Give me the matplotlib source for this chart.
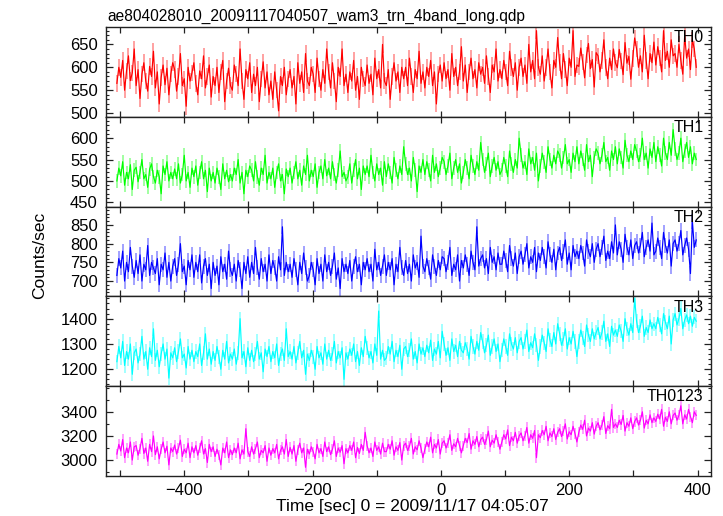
import numpy as np
import matplotlib
matplotlib.use("Agg")
import matplotlib.pyplot as plt
from matplotlib.ticker import MultipleLocator, FixedLocator

plt.rcParams['font.family'] = ['Liberation Sans', 'DejaVu Sans']

title = "ae804028010_20091117040507_wam3_trn_4band_long.qdp"
xlabel = "Time [sec] 0 = 2009/11/17 04:05:07"
ylabel = "Counts/sec"
band_names = ["TH0", "TH1", "TH2", "TH3", "TH0123"]

t_start = -505.0
t_bin = 3.0

th0 = [
    565, 600, 578, 615, 550, 592, 625, 571, 588, 640,
    560, 595, 532, 585, 610, 570, 548, 602, 580, 635,
    555, 590, 520, 578, 605, 562, 598, 540, 585, 610,
    595, 548, 580, 630, 560, 575, 515, 600, 570, 588,
    610, 565, 540, 592, 575, 625, 555, 580, 605, 535,
    580, 560, 600, 545, 590, 615, 525, 570, 598, 560,
    550, 605, 585, 560, 640, 570, 530, 595, 575, 610,
    545, 585, 560, 600, 525, 575, 612, 555, 590, 540,
    570, 530, 590, 550, 505, 580, 560, 600, 540, 575,
    595, 555, 580, 520, 610, 565, 590, 545, 630, 570,
    560, 600, 585, 545, 620, 575, 550, 595, 565, 640,
    590, 555, 610, 570, 525, 600, 580, 640, 560, 585,
    545, 590, 570, 615, 550, 580, 530, 600, 575, 560,
    605, 565, 585, 540, 620, 575, 595, 555, 650, 570,
    560, 595, 530, 580, 610, 570, 590, 545, 600, 575,
    600, 560, 620, 580, 545, 595, 575, 635, 565, 590,
    555, 600, 580, 615, 560, 590, 520, 585, 605, 570,
    610, 575, 595, 550, 630, 580, 600, 560, 590, 645,
    570, 605, 545, 590, 620, 575, 595, 555, 610, 585,
    600, 565, 625, 580, 545, 605, 590, 640, 570, 595,
    575, 615, 590, 560, 635, 600, 580, 610, 550, 600,
    620, 580, 605, 565, 650, 590, 615, 575, 680, 600,
    585, 625, 570, 600, 640, 590, 555, 615, 600, 665,
    610, 575, 630, 595, 560, 620, 600, 680, 580, 605,
    602, 642, 612, 577, 627, 652, 597, 617, 557, 632,
    625, 590, 615, 660, 600, 575, 620, 595, 640, 610,
    599, 639, 614, 584, 654, 609, 624, 574, 619, 664,
    640, 600, 625, 590, 670, 615, 575, 630, 610, 655,
    605, 645, 620, 590, 680, 615, 635, 600, 660, 625,
    630, 600, 650, 615, 585, 670, 620, 640, 595, 660,
    640, 600,
]

th1 = [
    500, 530, 512, 545, 490, 520, 505, 538, 480, 525,
    532, 498, 520, 550, 505, 515, 485, 528, 540, 510,
    495, 525, 510, 470, 535, 515, 545, 500, 520, 505,
    528, 505, 540, 495, 515, 560, 500, 520, 485, 530,
    510, 535, 490, 520, 545, 505, 525, 475, 530, 500,
    520, 495, 530, 510, 480, 540, 505, 525, 498, 515,
    500, 530, 515, 550, 495, 520, 470, 525, 510, 535,
    525, 500, 545, 510, 490, 530, 515, 560, 495, 520,
    505, 530, 485, 520, 540, 500, 515, 470, 528, 510,
    530, 495, 520, 545, 505, 525, 490, 535, 515, 560,
    500, 525, 510, 540, 485, 520, 535, 505, 550, 512,
    530, 505, 545, 515, 495, 525, 570, 510, 520, 500,
    510, 540, 495, 525, 550, 505, 530, 480, 535, 515,
    535, 510, 560, 520, 500, 540, 515, 530, 490, 545,
    510, 540, 520, 495, 555, 525, 505, 535, 515, 580,
    540, 515, 530, 500, 555, 525, 475, 535, 520, 550,
    515, 545, 525, 500, 560, 520, 540, 510, 530, 555,
    545, 515, 535, 565, 505, 530, 550, 520, 540, 495,
    520, 550, 530, 505, 560, 535, 515, 545, 525, 590,
    550, 520, 540, 565, 510, 535, 555, 525, 545, 515,
    525, 555, 535, 510, 570, 540, 520, 550, 530, 600,
    560, 530, 545, 515, 575, 540, 555, 525, 565, 500,
    535, 565, 545, 520, 580, 550, 530, 560, 540, 570,
    560, 530, 555, 585, 540, 550, 520, 565, 545, 580,
    540, 570, 550, 525, 585, 545, 560, 510, 555, 575,
    565, 540, 560, 590, 545, 555, 525, 570, 550, 580,
    540, 575, 555, 530, 595, 560, 545, 570, 550, 585,
    570, 545, 560, 600, 550, 565, 530, 575, 555, 590,
    545, 580, 560, 535, 600, 565, 550, 590, 560, 620,
    575, 550, 565, 600, 545, 570, 590, 555, 580, 540,
    565, 550,
]

th2 = [
    715, 760, 735, 780, 700, 750, 725, 790, 740, 710,
    755, 720, 770, 700, 745, 730, 795, 715, 750, 735,
    720, 760, 690, 745, 730, 775, 710, 750, 700, 740,
    760, 715, 745, 800, 725, 740, 690, 755, 730, 770,
    710, 750, 725, 770, 695, 740, 760, 715, 745, 680,
    750, 715, 740, 690, 765, 725, 745, 705, 780, 730,
    715, 745, 700, 755, 730, 680, 750, 720, 765, 710,
    750, 720, 790, 735, 705, 760, 725, 745, 700, 770,
    720, 755, 735, 700, 765, 730, 845, 715, 750, 725,
    745, 710, 760, 730, 690, 750, 720, 775, 735, 700,
    715, 750, 730, 690, 760, 720, 745, 700, 770, 725,
    750, 715, 740, 775, 705, 735, 680, 760, 725, 745,
    720, 755, 700, 740, 765, 725, 745, 690, 750, 730,
    760, 725, 745, 700, 785, 730, 750, 715, 740, 770,
    715, 750, 730, 760, 690, 745, 725, 790, 735, 715,
    755, 720, 745, 700, 770, 735, 750, 710, 820, 740,
    725, 760, 735, 705, 770, 740, 715, 755, 730, 765,
    760, 725, 750, 790, 715, 745, 730, 770, 700, 755,
    735, 770, 745, 715, 780, 750, 730, 845, 740, 760,
    770, 735, 760, 720, 790, 750, 765, 730, 775, 745,
    745, 780, 755, 725, 795, 760, 740, 775, 720, 765,
    780, 745, 770, 800, 735, 765, 750, 790, 725, 775,
    755, 790, 765, 735, 805, 770, 750, 785, 730, 775,
    790, 755, 780, 810, 745, 775, 730, 795, 765, 780,
    760, 795, 775, 740, 810, 780, 765, 800, 750, 785,
    800, 765, 790, 820, 755, 780, 760, 805, 775, 850,
    770, 805, 785, 750, 825, 790, 770, 810, 760, 795,
    805, 775, 795, 830, 765, 790, 810, 780, 855, 770,
    780, 815, 790, 760, 830, 795, 775, 810, 740, 800,
    810, 780, 800, 835, 770, 795, 815, 785, 720, 860,
    790, 810,
]

th3 = [
    1230, 1290, 1245, 1310, 1215, 1270, 1240, 1300, 1180, 1265,
    1280, 1225, 1260, 1330, 1240, 1270, 1200, 1285, 1250, 1360,
    1235, 1275, 1210, 1260, 1300, 1240, 1280, 1165, 1265, 1245,
    1285, 1230, 1270, 1320, 1245, 1260, 1205, 1290, 1240, 1275,
    1230, 1270, 1250, 1300, 1215, 1265, 1340, 1240, 1280, 1220,
    1270, 1235, 1290, 1250, 1200, 1275, 1240, 1310, 1225, 1260,
    1240, 1280, 1220, 1265, 1400, 1245, 1270, 1210, 1285, 1235,
    1275, 1230, 1260, 1310, 1240, 1265, 1190, 1280, 1250, 1290,
    1230, 1270, 1245, 1300, 1215, 1260, 1280, 1235, 1360, 1250,
    1270, 1240, 1290, 1225, 1265, 1310, 1245, 1275, 1180, 1260,
    1235, 1275, 1250, 1200, 1290, 1245, 1265, 1220, 1300, 1240,
    1275, 1235, 1260, 1310, 1225, 1270, 1245, 1285, 1160, 1265,
    1240, 1280, 1255, 1300, 1230, 1270, 1215, 1285, 1250, 1330,
    1285, 1245, 1270, 1225, 1300, 1255, 1430, 1240, 1275, 1235,
    1245, 1290, 1260, 1310, 1230, 1275, 1250, 1295, 1200, 1280,
    1290, 1250, 1275, 1320, 1240, 1270, 1225, 1300, 1260, 1285,
    1250, 1295, 1265, 1315, 1235, 1280, 1260, 1310, 1245, 1350,
    1300, 1255, 1285, 1235, 1320, 1270, 1295, 1250, 1310, 1275,
    1265, 1305, 1280, 1240, 1330, 1290, 1260, 1310, 1275, 1345,
    1310, 1265, 1295, 1335, 1255, 1290, 1320, 1270, 1300, 1230,
    1275, 1320, 1290, 1255, 1340, 1300, 1280, 1325, 1265, 1310,
    1325, 1280, 1310, 1355, 1270, 1305, 1285, 1340, 1295, 1235,
    1290, 1335, 1305, 1270, 1360, 1315, 1290, 1345, 1300, 1380,
    1340, 1295, 1320, 1360, 1280, 1325, 1300, 1350, 1310, 1250,
    1310, 1355, 1325, 1290, 1375, 1335, 1310, 1360, 1320, 1345,
    1365, 1320, 1345, 1390, 1310, 1340, 1290, 1370, 1335, 1355,
    1330, 1375, 1350, 1310, 1400, 1360, 1335, 1380, 1345, 1480,
    1390, 1345, 1370, 1410, 1330, 1365, 1345, 1395, 1360, 1380,
    1360, 1405, 1375, 1340, 1420, 1385, 1360, 1410, 1300, 1395,
    1420, 1375, 1400, 1440, 1360, 1395, 1415, 1380, 1410, 1370,
    1405, 1390,
]

th0123 = [
    3050, 3130, 3075, 3170, 3020, 3100, 3060, 3150, 3000, 3110,
    3120, 3040, 3095, 3180, 3055, 3100, 2990, 3130, 3070, 3200,
    3045, 3110, 3010, 3090, 3150, 3060, 3115, 2960, 3100, 3070,
    3125, 3050, 3100, 3165, 3030, 3090, 3060, 3140, 3020, 3110,
    3060, 3120, 3040, 3100, 3160, 3050, 3095, 2980, 3130, 3070,
    3110, 3030, 3090, 3040, 2960, 3100, 3060, 3150, 3020, 3085,
    3045, 3100, 3060, 3140, 3010, 3085, 3050, 3260, 3070, 3030,
    3110, 3050, 3095, 3150, 3020, 3080, 3060, 3120, 2990, 3100,
    3040, 3095, 3060, 3130, 3010, 3080, 3110, 3050, 3170, 3030,
    3105, 3050, 3120, 2990, 3085, 3140, 3060, 3100, 2940, 3090,
    3050, 3110, 3070, 3010, 3130, 3060, 3095, 3030, 3150, 3070,
    3110, 3045, 3090, 3160, 3030, 3100, 3065, 3120, 2970, 3095,
    3060, 3120, 3080, 3150, 3020, 3105, 3055, 3130, 3080, 3230,
    3120, 3060, 3100, 3030, 3150, 3080, 3110, 3050, 3140, 3070,
    3070, 3130, 3090, 3160, 3040, 3110, 3080, 3145, 3000, 3120,
    3140, 3080, 3115, 3180, 3050, 3110, 3085, 3160, 3100, 3020,
    3090, 3150, 3110, 3190, 3060, 3130, 3100, 3170, 3050, 3140,
    3160, 3100, 3140, 3210, 3080, 3135, 3110, 3180, 3120, 3060,
    3120, 3180, 3145, 3220, 3090, 3160, 3130, 3195, 3110, 3170,
    3190, 3130, 3170, 3240, 3110, 3165, 3140, 3210, 3150, 3090,
    3150, 3210, 3175, 3250, 3120, 3190, 3160, 3230, 3140, 3200,
    3225, 3160, 3200, 3270, 3140, 3210, 3180, 3245, 3020, 3210,
    3185, 3245, 3210, 3280, 3160, 3225, 3195, 3260, 3170, 3230,
    3260, 3195, 3240, 3300, 3175, 3235, 3210, 3280, 3220, 3150,
    3230, 3290, 3255, 3330, 3200, 3265, 3240, 3310, 3215, 3280,
    3310, 3250, 3290, 3360, 3220, 3285, 3260, 3420, 3270, 3300,
    3270, 3330, 3295, 3370, 3240, 3310, 3280, 3350, 3260, 3320,
    3350, 3290, 3330, 3400, 3265, 3330, 3300, 3375, 3310, 3350,
    3320, 3380, 3340, 3420, 3280, 3355, 3320, 3400, 3300, 3370,
    3390, 3330, 3370, 3450, 3300, 3375, 3340, 3420, 3360, 3310,
    3400, 3370,
]

# typical 1-sigma error per band (counts/sec)
band_errors = [18, 16, 20, 28, 42]

# labelled y ticks per panel
yticks_th0 = [500, 550, 600, 650]
yticks_th1 = [450, 500, 550, 600]
yticks_th2 = [700, 750, 800, 850]
yticks_th3 = [1200, 1300, 1400]
yticks_th0123 = [3000, 3200, 3400]
xticks = [-400, -200, 0, 200, 400]

series = [th0, th1, th2, th3, th0123]
ytick_sets = [yticks_th0, yticks_th1, yticks_th2, yticks_th3, yticks_th0123]
colors = ["#ff0000", "#00ff00", "#0000ff", "#00ffff", "#ff00ff"]
ylims = [(492, 688), (440, 650), (659, 899), (1133, 1488), (2868, 3612)]
yminor = [10, 10, 10, 20, 100]
xlim = (-522, 421)

fig, axes = plt.subplots(5, 1, sharex=True, figsize=(7.23, 5.16), dpi=100)
fig.subplots_adjust(left=0.1466, right=0.9834, top=0.9477, bottom=0.0775, hspace=0)

for ax, y, err, c, name, yl, yt, mi in zip(axes, series, band_errors, colors,
                                           band_names, ylims, ytick_sets, yminor):
    y = np.asarray(y, dtype=float)
    t = t_start + t_bin * np.arange(len(y))
    ax.errorbar(t, y, yerr=err, fmt='none', ecolor=c, elinewidth=1.3,
                alpha=0.4, capsize=0, zorder=1)
    ax.plot(t, y, color=c, lw=0.85, zorder=2)
    ax.set_ylim(*yl)
    ax.set_xlim(*xlim)
    ax.yaxis.set_major_locator(FixedLocator(yt))
    ax.yaxis.set_minor_locator(MultipleLocator(mi))
    ax.xaxis.set_major_locator(FixedLocator(xticks))
    ax.xaxis.set_minor_locator(MultipleLocator(100))
    ax.tick_params(axis='both', which='both', direction='in', top=True,
                   right=True, colors='#222222', labelcolor='black')
    ax.tick_params(axis='y', which='major', length=5, width=0.9, labelsize=12, pad=6)
    ax.tick_params(axis='y', which='minor', length=2.5, width=0.8)
    ax.tick_params(axis='x', which='both', length=4.5, width=0.9, labelsize=12, pad=5)
    for sp in ax.spines.values():
        sp.set_linewidth(1.0)
        sp.set_color('#222222')
    ax.text(0.988, 0.965, name, transform=ax.transAxes, ha='right', va='top',
            fontsize=11.5, color='black', zorder=5)

fig.text(107 / 723, 1 - 21 / 516, title, ha='left', va='baseline', fontsize=11.2)
fig.text(40 / 723, 1 - 255 / 516, ylabel, rotation=90, ha='center', va='center', fontsize=12.5)
fig.text(412 / 723, 1 - 507 / 516, xlabel, ha='center', va='center', fontsize=12.5)

fig.savefig("out.png", dpi=100)
